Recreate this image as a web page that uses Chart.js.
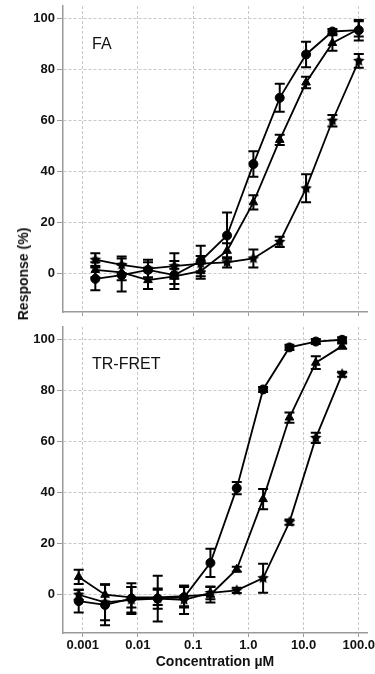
<!DOCTYPE html>
<html><head><meta charset="utf-8">
<script src="https://cdn.jsdelivr.net/npm/chart.js@4"></script>
<style>
html,body{margin:0;padding:0;background:#fff;width:375px;height:674px;overflow:hidden;position:relative;}
canvas{position:absolute;left:0;}
#c1{top:0;}
#c2{top:320px;}
.ytitle{position:absolute;left:23px;top:274px;transform:translate(-50%,-50%) rotate(-90deg);font:bold 14px "Liberation Sans",Arial,sans-serif;white-space:nowrap;color:#111;}
.plabel{position:absolute;left:92px;font:16px "Liberation Sans",Arial,sans-serif;color:#111;line-height:16px;transform:translateY(-50%);white-space:nowrap;}
</style></head><body>
<canvas id="c1" width="375" height="320"></canvas>
<canvas id="c2" width="375" height="354"></canvas>
<div class="ytitle">Response (%)</div>
<div class="plabel" style="top:44px">FA</div>
<div class="plabel" style="top:364px">TR-FRET</div>
<script>
// ---- data ----
const FA_CONC = [0.001694, 0.00508, 0.01524, 0.04572, 0.1372, 0.4115, 1.235, 3.704, 11.11, 33.33, 100];
const FA_CIRCLE = [-2, -0.5, 1.5, -0.5, 5, 15, 43, 69, 86, 95, 95.5];
const FA_CIRCLE_ERR = [4.5, 6.5, 3, 5.5, 6, 9, 5, 5.5, 5, 1, 4];
const FA_TRIANGLE = [1.5, 0.5, -2.5, -1, 1, 9, 28, 52.5, 75, 90.5, 96];
const FA_TRIANGLE_ERR = [3, 3, 3.5, 3, 3, 3, 2.8, 2, 2.3, 3, 3];
const FA_STAR = [5.5, 3.5, 2, 3, 4, 4.5, 6, 12.5, 33.5, 60, 83.5];
const FA_STAR_ERR = [2.5, 3.3, 3.5, 5, 3, 2, 3.5, 2, 5.5, 2.3, 2.7];

const TR_CONC = [0.000847, 0.00254, 0.00762, 0.02286, 0.06859, 0.2058, 0.6173, 1.852, 5.556, 16.67, 50];
const TR_CIRCLE = [-2.5, -4, -1.5, -1.5, -1, 12.5, 41.8, 80.5, 97, 99.3, 100];
const TR_CIRCLE_ERR = [4.5, 8, 6, 9, 4, 5.5, 2.4, 1, 1, 1, 1];
const TR_TRIANGLE = [7, 0, -1, -1, -0.5, 0, 10, 37.5, 69.5, 91, 97.5];
const TR_TRIANGLE_ERR = [2.8, 4, 4, 3, 4, 3, 1, 4, 2, 2.5, 1];
const TR_STAR = [0, -3, -2, -1.5, -2, 0.7, 1.7, 6.5, 28.5, 61.5, 86.5];
const TR_STAR_ERR = [2, 7, 5, 4, 5.5, 2.5, 1, 5.7, 1, 2, 1];

const X_TICKS = [0.001, 0.01, 0.1, 1, 10, 100];
const X_TICK_LABELS = ['0.001', '0.01', '0.1', '1.0', '10.0', '100.0'];
const Y_TICKS = [0, 20, 40, 60, 80, 100];
const PANEL_TITLES = ['FA', 'TR-FRET'];

// ---- styling ----
const FONT = '"Liberation Sans", Arial, sans-serif';
const GRID = '#c8c8c8';
const AXIS = '#9a9a9a';

function makeStar(r) {
  const size = Math.ceil(r * 2 + 2);
  const c = document.createElement('canvas'); c.width = c.height = size;
  const g = c.getContext('2d'); g.fillStyle = '#000'; g.beginPath();
  for (let i = 0; i < 10; i++) {
    const rad = i % 2 ? r * 0.5 : r;
    const a = -Math.PI / 2 + i * Math.PI / 5;
    const px = size / 2 + rad * Math.cos(a), py = size / 2 + rad * Math.sin(a);
    if (i) g.lineTo(px, py); else g.moveTo(px, py);
  }
  g.closePath(); g.fill();
  return c;
}
const STAR = makeStar(6);

const errorBars = {
  id: 'errorBars',
  beforeDatasetsDraw(chart) {
    const {ctx, scales: {x, y}} = chart;
    ctx.save(); ctx.strokeStyle = '#000'; ctx.lineWidth = 2;
    chart.data.datasets.forEach(ds => {
      ds.data.forEach((p, i) => {
        const e = ds.errs[i];
        const px = x.getPixelForValue(p.x);
        const y1 = y.getPixelForValue(p.y + e), y2 = y.getPixelForValue(p.y - e);
        ctx.beginPath();
        ctx.moveTo(px, y1); ctx.lineTo(px, y2);
        ctx.moveTo(px - 5, y1); ctx.lineTo(px + 5, y1);
        ctx.moveTo(px - 5, y2); ctx.lineTo(px + 5, y2);
        ctx.stroke();
      });
    });
    ctx.restore();
  }
};

function ds(conc, vals, errs, style, radius) {
  return {
    data: conc.map((c, i) => ({x: c, y: vals[i]})),
    errs: errs,
    borderColor: '#000', borderWidth: 1.8,
    pointStyle: style, pointRadius: radius, pointHoverRadius: radius,
    pointBackgroundColor: '#000', pointBorderColor: '#000', pointBorderWidth: 1,
    tension: 0, fill: false
  };
}

function makeChart(id, datasets, showX, xHeight, padTop) {
  return new Chart(document.getElementById(id), {
    type: 'line',
    data: {datasets},
    plugins: [errorBars],
    options: {
      responsive: false, animation: false, devicePixelRatio: 1,
      layout: {padding: {top: padTop, right: 8, left: 0, bottom: 0}},
      plugins: {legend: {display: false}, tooltip: {enabled: false}},
      scales: {
        x: {
          type: 'logarithmic', min: 0.00044, max: 141,
          afterBuildTicks: s => { s.ticks = X_TICKS.map(v => ({value: v})); },
          afterFit: s => { s.height = xHeight; s.paddingLeft = 0; s.paddingRight = 0; },
          ticks: {
            display: showX, autoSkip: false, maxRotation: 0, padding: 1,
            font: {family: FONT, size: 13, weight: 'bold'}, color: '#111',
            callback: (v) => { const i = X_TICKS.indexOf(v); return i >= 0 ? X_TICK_LABELS[i] : ''; }
          },
          grid: {color: GRID, lineWidth: 1, tickLength: 4, tickColor: AXIS, tickWidth: 1},
          border: {display: true, color: AXIS, width: 1.5, dash: [3, 2]},
          title: {display: showX, text: 'Concentration µM', color: '#111',
                  font: {family: FONT, size: 14, weight: 'bold'}, padding: {top: 0, bottom: 3}}
        },
        y: {
          min: -15, max: 105,
          afterBuildTicks: s => { s.ticks = Y_TICKS.map(v => ({value: v})); },
          afterFit: s => { s.width = 63; s.paddingTop = 0; s.paddingBottom = 0; },
          ticks: {font: {family: FONT, size: 13, weight: 'bold'}, color: '#111', padding: 2},
          grid: {color: GRID, lineWidth: 1, tickLength: 6, tickColor: AXIS, tickWidth: 1},
          border: {display: true, color: AXIS, width: 1.5, dash: [3, 2]}
        }
      }
    }
  });
}

makeChart('c1', [
  ds(FA_CONC, FA_STAR, FA_STAR_ERR, STAR, 5),
  ds(FA_CONC, FA_TRIANGLE, FA_TRIANGLE_ERR, 'triangle', 5),
  ds(FA_CONC, FA_CIRCLE, FA_CIRCLE_ERR, 'circle', 4.5)
], false, 8, 6);

makeChart('c2', [
  ds(TR_CONC, TR_STAR, TR_STAR_ERR, STAR, 5),
  ds(TR_CONC, TR_TRIANGLE, TR_TRIANGLE_ERR, 'triangle', 5),
  ds(TR_CONC, TR_CIRCLE, TR_CIRCLE_ERR, 'circle', 4.5)
], true, 41, 7);
</script>
</body></html>
